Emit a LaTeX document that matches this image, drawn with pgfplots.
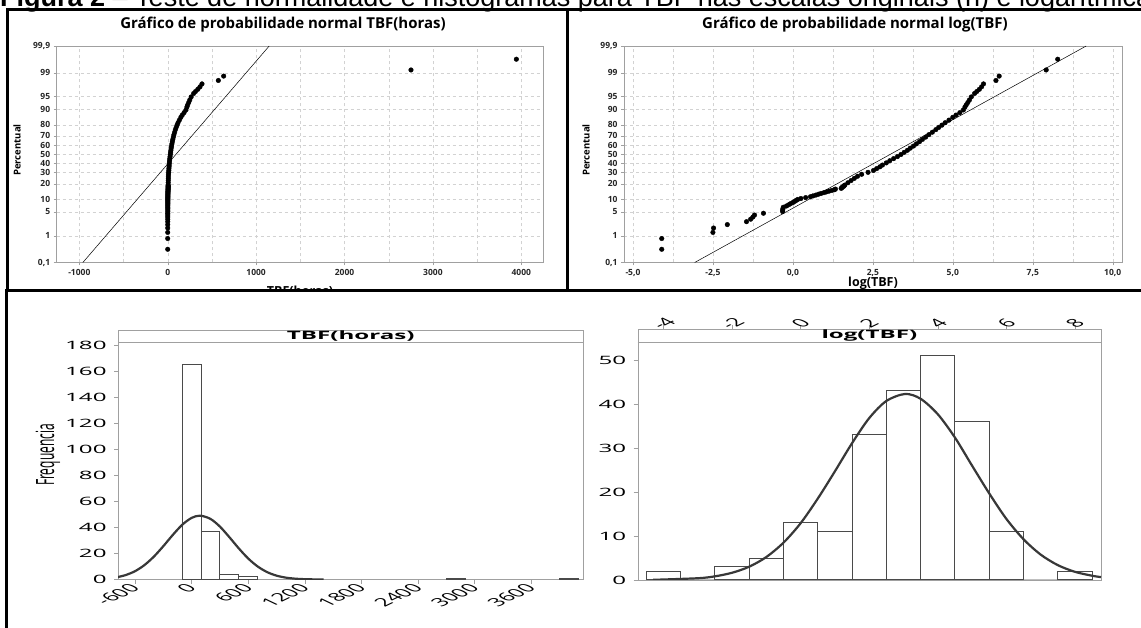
\documentclass[border=0pt]{standalone}
\usepackage{pgfplots}
\pgfplotsset{compat=1.18}
\usepackage{pgfplotstable}
\usepackage{fontspec}
\setmainfont{Open Sans}
\newfontfamily\capfont{Liberation Sans}

\definecolor{axgray}{HTML}{A0A0A0}
\definecolor{gridgray}{HTML}{D2D2D2}
\definecolor{bargray}{HTML}{4A4A4A}
\definecolor{curvegray}{HTML}{383838}

% normal scores (z) of the ranks, log(TBF) and TBF in hours
\pgfplotstableread{
z lg tbf
-2.713 -4.10 0.017
-2.406 -4.10 0.017
-2.231 -2.50 0.082
-2.106 -2.48 0.084
-2.008 -2.05 0.129
-1.925 -1.45 0.235
-1.854 -1.32 0.267
-1.792 -1.25 0.287
-1.735 -1.20 0.301
-1.684 -0.92 0.399
-1.637 -0.32 0.726
-1.593 -0.32 0.726
-1.552 -0.31 0.733
-1.513 -0.30 0.741
-1.477 -0.20 0.819
-1.442 -0.13 0.878
-1.409 -0.07 0.932
-1.378 0.00 1.000
-1.348 0.05 1.051
-1.319 0.10 1.105
-1.291 0.15 1.162
-1.264 0.25 1.284
-1.238 0.40 1.492
-1.213 0.55 1.733
-1.189 0.63 1.878
-1.165 0.72 2.054
-1.141 0.80 2.226
-1.119 0.88 2.411
-1.097 0.97 2.638
-1.075 1.05 2.858
-1.054 1.13 3.096
-1.033 1.22 3.387
-1.013 1.30 3.669
-0.994 1.33 3.781
-0.974 1.51 4.527
-0.955 1.53 4.618
-0.937 1.55 4.711
-0.918 1.58 4.855
-0.900 1.60 4.953
-0.883 1.62 5.053
-0.814 1.72 5.585
-0.750 1.82 6.172
-0.688 1.92 6.821
-0.629 2.02 7.538
-0.572 2.15 8.585
-0.516 2.35 10.49
-0.463 2.52 12.43
-0.410 2.62 13.74
-0.359 2.72 15.18
-0.308 2.80 16.44
-0.247 2.92 18.54
-0.185 3.03 20.70
-0.125 3.15 23.34
-0.066 3.27 26.31
-0.006 3.38 29.37
0.054 3.48 32.46
0.113 3.58 35.87
0.174 3.67 39.25
0.234 3.77 43.38
0.296 3.86 47.47
0.359 3.96 52.46
0.423 4.05 57.40
0.489 4.15 63.43
0.558 4.25 70.11
0.629 4.36 78.26
0.703 4.47 87.36
0.766 4.56 95.58
0.831 4.66 105.6
0.900 4.76 116.7
0.974 4.88 131.6
1.054 5.00 148.4
1.118 5.10 164.0
1.188 5.22 184.9
1.264 5.33 206.4
1.348 5.38 217.0
1.409 5.42 225.9
1.477 5.47 237.5
1.551 5.52 249.6
1.637 5.58 265.1
1.735 5.68 293.0
1.791 5.75 314.2
1.854 5.83 340.4
1.925 5.90 365.0
2.008 5.96 387.6
2.106 6.35 572.5
2.231 6.45 632.7
2.406 7.92 2752
2.713 8.28 3944
}\probdata

\pgfplotsset{
  /pgf/number format/assume math mode=true,
  probplot/.style={
    scale only axis, anchor=south west,
    ymin=-3.0902, ymax=3.0902,
    ytick={-3.0902,-2.3263,-1.6449,-1.2816,-0.8416,-0.5244,-0.2533,0,0.2533,0.5244,0.8416,1.2816,1.6449,2.3263,3.0902},
    yticklabels={{0,1},1,5,10,20,30,40,50,60,70,80,90,95,99,{99,9}},
    axis line style={axgray},
    tick style={axgray, thin},
    tick align=outside, major tick length=3pt, minor tick length=0pt,
    xtick pos=bottom, ytick pos=left,
    grid=both,
    major grid style={gridgray, dashed},
    minor grid style={gridgray, dashed},
    ticklabel style={font=\bfseries\fontsize{8.5}{9}\selectfont, text=black!85},
  },
  histo/.style={
    scale only axis, anchor=south west,
    ymin=0,
    axis line style={axgray},
    tick style={axgray, thin},
    tick align=outside, major tick length=4pt,
    ytick pos=left,
    ticklabel style={font=\fontsize{11.5}{12}\selectfont},
    yticklabel style={xscale=2.1},
  },
}

\begin{document}
\begin{tikzpicture}[x=1pt,y=1pt]
\useasboundingbox (0,0) rectangle (1141,627);

% caption, cut at the top of the page
\node[anchor=base west, inner sep=0, font=\capfont\fontsize{27}{29}\selectfont] at (0,620)
  {\textbf{Figura 2} – Teste de normalidade e histogramas para TBF nas escalas originais (h) e logarítmica};

% ---- normal probability plot, TBF ----
\begin{axis}[probplot,
    at={(56.7pt,364.5pt)}, width=486.7pt, height=216.5pt,
    xmin=-1256, xmax=4250,
    xtick={-1000,0,1000,2000,3000,4000},
    xticklabels={-1000,0,1000,2000,3000,4000},
    minor xtick={-500,500,1500,2500,3500},
  ]
  \addplot[black, line width=0.5pt] coordinates {(-960,-3.0902) (1148,3.0902)};
  \addplot[only marks, mark=*, mark size=2.3pt, black] table[x=tbf, y=z] {\probdata};
\end{axis}

% ---- normal probability plot, log(TBF) ----
\begin{axis}[probplot,
    at={(624pt,364.5pt)}, width=498pt, height=216.5pt,
    xmin=-5.28, xmax=10.29,
    xtick={-5,-2.5,0,2.5,5,7.5,10},
    xticklabels={{-5,0},{-2,5},{0,0},{2,5},{5,0},{7,5},{10,0}},
    minor xtick={-3.75,-1.25,1.25,3.75,6.25,8.75},
  ]
  \addplot[black, line width=0.5pt] coordinates {(-3.07,-3.0902) (9.17,3.0902)};
  \addplot[only marks, mark=*, mark size=2.3pt, black] table[x=lg, y=z] {\probdata};
\end{axis}

\node[font=\bfseries\fontsize{15}{16}\selectfont] at (283,602) {Gráfico de probabilidade normal TBF(horas)};
\node[font=\bfseries\fontsize{15}{16}\selectfont] at (855,602) {Gráfico de probabilidade normal log(TBF)};
\node[rotate=90, font=\bfseries\fontsize{9.5}{10}\selectfont] at (17,477) {Percentual};
\node[rotate=90, font=\bfseries\fontsize{9.5}{10}\selectfont] at (586,477) {Percentual};
\node[font=\bfseries\fontsize{12.5}{14}\selectfont] at (300,335) {TBF(horas)};
\node[font=\bfseries\fontsize{12.5}{14}\selectfont] at (873,344) {log(TBF)};

% lower panel covers the lower half of the cut x label
\fill[white] (0,-5) rectangle (1150,336.5);

% ---- histogram, TBF ----
\begin{axis}[histo,
    at={(118pt,47.5pt)}, width=465.6pt, height=249.5pt,
    xmin=-781, xmax=4157, ymax=191.5,
    xtick={-600,0,600,1200,1800,2400,3000,3600},
    xticklabels={-600,0,600,1200,1800,2400,3000,3600},
    xtick pos=bottom,
    xticklabel style={xshift=5pt, xscale=2.1, rotate=45, anchor=east},
    ytick={0,20,...,180},
  ]
  \addplot[ybar interval, draw=bargray, fill=white, line width=1pt]
    coordinates {(-100,165) (100,37) (300,4) (500,2) (700,2)};
  \addplot[ybar interval, draw=bargray, fill=white, line width=1pt]
    coordinates {(2700,1) (2900,1)};
  \addplot[ybar interval, draw=bargray, fill=white, line width=1pt]
    coordinates {(3900,1) (4100,1)};
  \addplot[curvegray, line width=2.2pt, smooth] coordinates {
    (-781,1.93) (-700,3.4) (-600,6.4) (-500,11.1) (-400,17.6) (-300,25.6)
    (-200,34.2) (-100,42.0) (0,47.3) (90,49.0) (200,46.5) (300,40.6)
    (400,32.5) (500,23.9) (600,16.1) (700,10.0) (800,5.7) (900,2.96)
    (1000,1.42) (1100,0.63) (1200,0.25) (1300,0.09) (1400,0.03)};
  \draw[axgray] (axis cs:-781,182) -- (axis cs:4157,182);
\end{axis}

% ---- histogram, log(TBF) ----
\begin{axis}[histo,
    at={(637.7pt,47pt)}, width=463.3pt, height=250.7pt,
    xmin=-4.75, xmax=8.76, ymax=57,
    xtick={-4,-2,0,2,4,6,8},
    xticklabels={-4,-2,0,2,4,6,8},
    xtick pos=top, xticklabel pos=top,
    xticklabel style={yshift=2pt, xscale=2.1, rotate=45, anchor=center},
    ytick={0,10,...,50},
  ]
  \addplot[ybar interval, draw=bargray, fill=white, line width=1pt]
    coordinates {(-4.5,2) (-3.5,0) (-2.5,3) (-1.5,5) (-0.5,13) (0.5,11) (1.5,33)
                 (2.5,43) (3.5,51) (4.5,36) (5.5,11) (6.5,0) (7.5,2) (8.5,2)};
  \addplot[curvegray, line width=2.2pt, smooth] coordinates {
    (-4.3,0.04) (-3,0.40) (-2.5,0.83) (-2,1.64) (-1.5,3.02) (-1,5.22) (-0.5,8.48)
    (0,12.9) (0.5,18.5) (1,24.7) (1.5,31.1) (2,36.8) (2.5,40.7) (3.05,42.3)
    (3.5,41.2) (4,37.7) (4.5,32.4) (5,26.0) (5.5,19.7) (6,13.9) (6.5,9.27)
    (7,5.78) (7.5,3.38) (8,1.86) (8.5,0.97) (8.76,0.66)};
  \draw[axgray] (axis cs:-4.75,54) -- (axis cs:8.76,54);
\end{axis}

\node[xscale=2.1, font=\bfseries\fontsize{11.5}{12}\selectfont] at (350.8,291) {TBF(horas)};
\node[xscale=2.1, font=\bfseries\fontsize{11.5}{12}\selectfont] at (869.4,291) {log(TBF)};
\node[xscale=2.1, rotate=90, font=\fontsize{12}{13}\selectfont] at (48,172) {Frequencia};

% panel borders
\draw[line width=3pt] (6,617.5) -- (1150,617.5);
\draw[line width=3pt] (7.5,617.5) -- (7.5,336.5);
\draw[line width=3pt] (567,617.5) -- (567,336.5);
\draw[line width=3pt] (5,336.5) -- (1150,336.5);
\draw[line width=3pt] (6.5,336.5) -- (6.5,-5);
\end{tikzpicture}
\end{document}
